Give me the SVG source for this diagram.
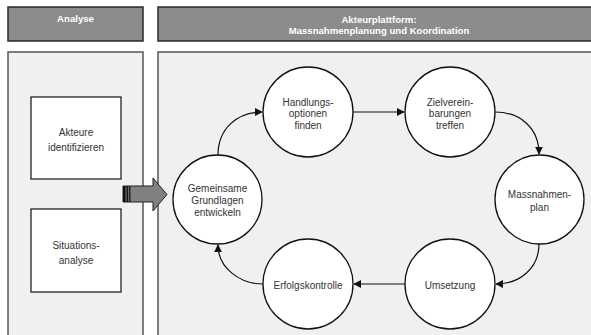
<svg xmlns="http://www.w3.org/2000/svg" width="591" height="335" viewBox="0 0 591 335">
<defs>
<style>
.hdr{fill:#8c8c8c;stroke:#2a2a2a;stroke-width:1.5}
.pnl{fill:#f0f0f0;stroke:#555;stroke-width:1.5}
.box{fill:#fff;stroke:#111;stroke-width:1.2}
.node{fill:#fff;stroke:#111;stroke-width:1.3}
.ht{font-family:"Liberation Sans",Arial,sans-serif;font-size:9.6px;font-weight:bold;fill:#fff;text-anchor:middle}
.t{font-family:"Liberation Sans",Arial,sans-serif;font-size:10px;fill:#333;text-anchor:middle}
.c{fill:none;stroke:#111;stroke-width:1.2;marker-end:url(#ah)}
</style>
<marker id="ah" viewBox="0 0 10 10" refX="9" refY="5" markerWidth="8" markerHeight="8" markerUnits="userSpaceOnUse" orient="auto">
<path d="M0,0 L10,5 L0,10 Z" fill="#111"/>
</marker>
</defs>
<rect width="591" height="335" fill="#fff"/>
<g id="header-analyse">
<rect class="hdr" x="8" y="7" width="135" height="34"/>
<text class="ht" x="75.5" y="22">Analyse</text>
</g>
<g id="header-plattform">
<rect class="hdr" x="158" y="7" width="442" height="34"/>
<text class="ht" x="379" y="22.5">Akteurplattform:</text>
<text class="ht" x="379" y="34">Massnahmenplanung und Koordination</text>
</g>
<g id="panel-analyse">
<rect class="pnl" x="8" y="52" width="135" height="290"/>
</g>
<g id="panel-plattform">
<rect class="pnl" x="158" y="52" width="442" height="290"/>
</g>
<g id="akteure">
<rect class="box" x="31" y="97" width="90" height="82"/>
<text class="t" x="76" y="136">Akteure</text>
<text class="t" x="76" y="150.5">identifizieren</text>
</g>
<g id="situation">
<rect class="box" x="31" y="209" width="90" height="83"/>
<text class="t" x="76" y="249">Situations-</text>
<text class="t" x="76" y="263.5">analyse</text>
</g>
<g id="transfer-arrow">
<polygon points="123,186 153,186 153,178 167,194.5 153,211 153,202 123,202" fill="#808080" stroke="#222" stroke-width="1"/>
<rect x="123" y="186" width="2.6" height="16" fill="#111"/>
<rect x="126.6" y="186" width="1.6" height="16" fill="#111"/>
<rect x="129.2" y="186" width="1.2" height="16" fill="#111"/>
</g>
<g id="connectors">
<path class="c" d="M218,155 C218,128 238,112 262,112"/>
<path class="c" d="M353,112 L404,112"/>
<path class="c" d="M495,112 C520,112 539,128 539,154"/>
<path class="c" d="M539,244 C539,268 520,284 496,284"/>
<path class="c" d="M405,284 L354,284"/>
<path class="c" d="M263,284 C240,284 218,268 218,245"/>
</g>
<g id="gemeinsame">
<circle class="node" cx="217.5" cy="199.5" r="44.5"/>
<text class="t" x="217.5" y="191.5">Gemeinsame</text>
<text class="t" x="217.5" y="203.5">Grundlagen</text>
<text class="t" x="217.5" y="215.5">entwickeln</text>
</g>
<g id="handlungs">
<circle class="node" cx="308" cy="112" r="45"/>
<text class="t" x="308" y="105.5">Handlungs-</text>
<text class="t" x="308" y="117">optionen</text>
<text class="t" x="308" y="128.5">finden</text>
</g>
<g id="ziel">
<circle class="node" cx="450" cy="112" r="45"/>
<text class="t" x="450" y="105.5">Zielverein-</text>
<text class="t" x="450" y="117">barungen</text>
<text class="t" x="450" y="128.5">treffen</text>
</g>
<g id="massnahmenplan">
<circle class="node" cx="539.5" cy="199.5" r="44.5"/>
<text class="t" x="539.5" y="197.5">Massnahmen-</text>
<text class="t" x="539.5" y="210.5">plan</text>
</g>
<g id="umsetzung">
<circle class="node" cx="450" cy="284" r="45"/>
<text class="t" x="450" y="288.5">Umsetzung</text>
</g>
<g id="erfolgskontrolle">
<circle class="node" cx="308" cy="284" r="45"/>
<text class="t" x="308" y="288.5">Erfolgskontrolle</text>
</g>
</svg>
